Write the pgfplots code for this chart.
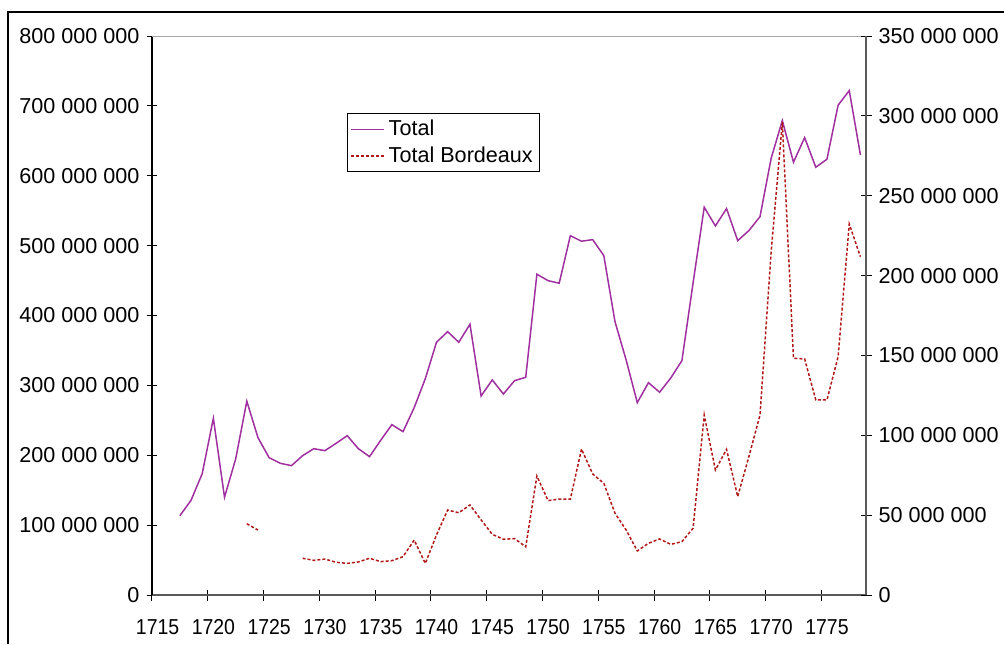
\documentclass[border=0pt]{standalone}
\usepackage{fontspec}
\setmainfont{Liberation Sans}
\usepackage{graphicx}
\usepackage{pgfplots}
\usepackage{pgfplotstable}
\pgfplotsset{compat=1.18}
\definecolor{purp}{RGB}{160,48,160}
\definecolor{bred}{RGB}{178,24,24}
\newcommand\f{\fontsize{10.8}{13}\selectfont}
\newcommand\sx[1]{\scalebox{0.9}[1]{#1}}
\pgfplotstableread{
year total bord
1717 113.5 nan
1718 135.6 nan
1719 173.6 nan
1720 252.9 nan
1721 139.9 nan
1722 194.7 nan
1723 277.3 44.6
1724 225.2 40.7
1725 196.5 nan
1726 188.5 nan
1727 185.1 nan
1728 199.4 23.0
1729 209.4 21.7
1730 206.6 22.5
1731 217.1 20.5
1732 228.0 19.8
1733 209.4 20.7
1734 198.0 23.0
1735 221.4 20.9
1736 243.8 21.5
1737 233.8 24.0
1738 268.1 34.4
1739 309.6 19.8
1740 361.7 37.6
1741 376.9 53.2
1742 361.7 51.5
1743 387.5 56.4
1744 284.9 47.0
1745 307.8 38.0
1746 287.7 34.9
1747 306.8 35.3
1748 311.6 30.2
1749 459.1 74.5
1750 449.9 59.1
1751 446.2 60.1
1752 514.3 60.1
1753 506.3 91.4
1754 508.6 75.8
1755 485.7 69.9
1756 391.2 51.2
1757 336.4 40.7
1758 275.3 27.6
1759 303.9 32.4
1760 290.2 35.1
1761 310.6 31.7
1762 335.4 33.4
1763 446.6 41.8
1764 555.0 112.7
1765 528.2 78.3
1766 553.0 91.2
1767 507.2 61.6
1768 521.5 86.6
1769 541.5 112.7
1770 625.1 215.0
1771 679.0 296.0
1772 619.4 148.2
1773 654.6 147.8
1774 612.2 122.1
1775 623.7 122.1
1776 701.0 149.2
1777 721.9 232.3
1778 629.8 211.8
}\data
\begin{document}
\begin{tikzpicture}
\begin{axis}[
  name=ax,
  width=357pt, height=279.5pt, scale only axis,
  xmin=1714.5, xmax=1778.5, ymin=0, ymax=800,
  axis x line*=bottom, axis y line*=left,
  x axis line style={draw=black!65, line width=1pt, -},
  y axis line style={draw=black, line width=0.6pt, -},
  tick align=center, major tick length=5.5pt,
  tick style={black, line width=0.5pt},
  xtick={1714.5,1719.5,...,1774.5},
  xticklabels={\sx{1715},\sx{1720},\sx{1725},\sx{1730},\sx{1735},\sx{1740},\sx{1745},\sx{1750},\sx{1755},\sx{1760},\sx{1765},\sx{1770},\sx{1775}},
  xticklabel style={font=\f, xshift=2.8pt, yshift=-6pt},
  ytick={0,100,...,800},
  yticklabels={0,100 000 000,200 000 000,300 000 000,400 000 000,500 000 000,600 000 000,700 000 000,800 000 000},
  yticklabel style={font=\f},
  unbounded coords=jump,
]
\addplot[purp, line width=0.75pt, no markers] table[x=year, y=total] {\data};
\draw[black!35, line width=0.5pt] (rel axis cs:0,1) -- (rel axis cs:1,1);
\end{axis}
\begin{axis}[
  width=357pt, height=279.5pt, scale only axis,
  at={(ax.south west)}, anchor=south west,
  xmin=1714.5, xmax=1778.5, ymin=0, ymax=350,
  axis x line=none, axis y line*=right,
  y axis line style={draw=black!65, line width=1pt, -},
  tick align=center, major tick length=5.5pt,
  tick style={black, line width=0.5pt},
  ytick={0,50,...,350},
  yticklabels={0,50 000 000,100 000 000,150 000 000,200 000 000,250 000 000,300 000 000,350 000 000},
  yticklabel style={font=\f},
  unbounded coords=jump,
  legend style={at={(0.2727,0.8617)}, anchor=north west, font=\f, draw=black, line width=0.5pt,
    inner xsep=1.5pt, inner ysep=1pt, row sep=0pt, cells={anchor=west}},
  legend image code/.code={\draw[#1] (0pt,0pt) -- (16.5pt,0pt);},
]
\addlegendimage{purp, line width=0.6pt}
\addlegendentry{Total}
\addplot[bred, line width=0.75pt, dash pattern=on 1.5pt off 1pt, no markers] table[x=year, y=bord] {\data};
\addlegendentry{Total Bordeaux}
\end{axis}
\pgfresetboundingbox
\useasboundingbox ([xshift=-76pt,yshift=-24.5pt]ax.south west) rectangle ++(502pt,322pt);
\draw[black, line width=0.6pt] ([xshift=-72pt,yshift=-24.5pt]ax.south west) -- ++(0,316pt) -- ++(500pt,0);
\end{tikzpicture}
\end{document}
